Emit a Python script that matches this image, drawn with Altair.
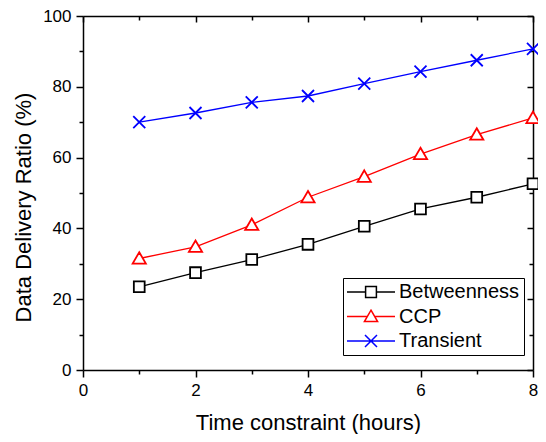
import altair as alt
import pandas as pd

hours = [1, 2, 3, 4, 5, 6, 7, 8]
betweenness = [23.5, 27.5, 31.2, 35.5, 40.6, 45.5, 48.8, 52.6]
ccp = [31.5, 34.8, 41.0, 48.8, 54.6, 61.0, 66.5, 71.2]
transient = [70.0, 72.6, 75.6, 77.4, 80.9, 84.3, 87.5, 90.7]

series_names = ["Betweenness", "CCP", "Transient"]
series_colors = ["#000000", "#FF0000", "#0000FF"]
x_major = [0, 2, 4, 6, 8]
x_minor = [1, 3, 5, 7]
y_major = [0, 20, 40, 60, 80, 100]
y_minor = [10, 30, 50, 70, 90]

rows = []
for name, vals in zip(series_names, [betweenness, ccp, transient]):
    for h, v in zip(hours, vals):
        rows.append({"hours": h, "ratio": v, "series": name})
df = pd.DataFrame(rows)

marker_paths = [
    "M-0.9,-0.9L0.9,-0.9L0.9,0.9L-0.9,0.9Z",
    "M0,-1.05L1.1,0.85L-1.1,0.85Z",
    "M-1,-1L1,1M1,-1L-1,1",
]
legend_paths = [
    "M-4,0L-0.9,0M0.9,0L4,0M-0.9,-0.9L0.9,-0.9L0.9,0.9L-0.9,0.9Z",
    "M-4,0L-0.6,0M0.6,0L4,0M0,-1.05L1.1,0.85L-1.1,0.85Z",
    "M-4,0L4,0M-1,-1L1,1M1,-1L-1,1",
]
shape_expr = (
    f"datum.value === '{series_names[0]}' ? '{legend_paths[0]}' : "
    f"datum.value === '{series_names[1]}' ? '{legend_paths[1]}' : '{legend_paths[2]}'"
)

FONT = "Liberation Sans"
xscale = alt.Scale(domain=[0, 8], nice=False, zero=False)
yscale = alt.Scale(domain=[0, 100], nice=False, zero=False)
cscale = alt.Scale(domain=series_names, range=series_colors)

common_axis = dict(grid=False, domainColor="black", tickColor="black", labelColor="black",
                   titleColor="black", domainWidth=1.5, tickWidth=1.5,
                   labelFont=FONT, titleFont=FONT, titleFontWeight="normal")

legend = alt.Legend(
    title=None, orient="none", legendX=260, legendY=262, padding=4,
    fillColor="white", strokeColor="black", labelFont=FONT, labelFontSize=20,
    labelColor="black", labelLimit=300, labelOffset=18, symbolOffset=14,
    rowPadding=4.5, symbolSize=144, symbolStrokeWidth=1.5,
    symbolType={"expr": shape_expr})

base = alt.Chart(df)

lines = base.mark_line(strokeWidth=1.3).encode(
    x=alt.X("hours:Q", scale=xscale, axis=alt.Axis(
        orient="bottom", values=x_major, tickSize=7, labelFontSize=17, labelPadding=5,
        labelFlush=False, labelOverlap=False, format="d",
        title="Time constraint (hours)", titleFontSize=22, titleBaseline="alphabetic",
        titleY=59, **common_axis)),
    y=alt.Y("ratio:Q", scale=yscale, axis=alt.Axis(
        orient="left", values=y_major, tickSize=7, labelFontSize=17, labelPadding=5,
        labelOverlap=False, format="d",
        title="Data Delivery Ratio (%)", titleFontSize=22, titleBaseline="alphabetic",
        titleX=-53, titleY=191, titleAngle=270, **common_axis)),
    color=alt.Color("series:N", scale=cscale, legend=legend),
)

point_layers = []
for i, (name, col, path) in enumerate(zip(series_names, series_colors, marker_paths)):
    if i == 0:
        xax = alt.Axis(orient="bottom", values=x_minor, tickSize=4, labels=False,
                       domain=False, title=None, **common_axis)
        yax = alt.Axis(orient="left", values=y_minor, tickSize=4, labels=False,
                       domain=False, title=None, **common_axis)
    else:
        xax = None
        yax = None
    point_layers.append(
        base.transform_filter(alt.datum.series == name).mark_point(
            shape=path, stroke=col, fill="white", fillOpacity=1, filled=False,
            strokeWidth=1.8, size=144, opacity=1).encode(
            x=alt.X("hours:Q", scale=xscale, axis=xax),
            y=alt.Y("ratio:Q", scale=yscale, axis=yax),
        )
    )

frame_major = base.mark_point(opacity=0).encode(
    x=alt.X("hours:Q", scale=xscale, axis=alt.Axis(
        orient="top", values=x_major, tickSize={"expr": "-6"}, labels=False,
        title=None, **common_axis)),
    y=alt.Y("ratio:Q", scale=yscale, axis=alt.Axis(
        orient="right", values=y_major, tickSize={"expr": "-6"}, labels=False,
        title=None, **common_axis)),
)

frame_minor = base.mark_point(opacity=0).encode(
    x=alt.X("hours:Q", scale=xscale, axis=alt.Axis(
        orient="top", values=x_minor, tickSize={"expr": "-4"}, labels=False, domain=False,
        title=None, **common_axis)),
    y=alt.Y("ratio:Q", scale=yscale, axis=alt.Axis(
        orient="right", values=y_minor, tickSize={"expr": "-4"}, labels=False, domain=False,
        title=None, **common_axis)),
)

chart = alt.layer(frame_major, frame_minor, lines, *point_layers).resolve_axis(
    x="independent", y="independent"
).properties(
    width=450, height=354,
    autosize=alt.AutoSizeParams(type="none"),
    padding={"left": 75, "top": 8, "right": 5, "bottom": 64},
    background="white",
).configure_view(stroke=None)

chart.save("out.html", embed_options={"renderer": "svg", "actions": False})
